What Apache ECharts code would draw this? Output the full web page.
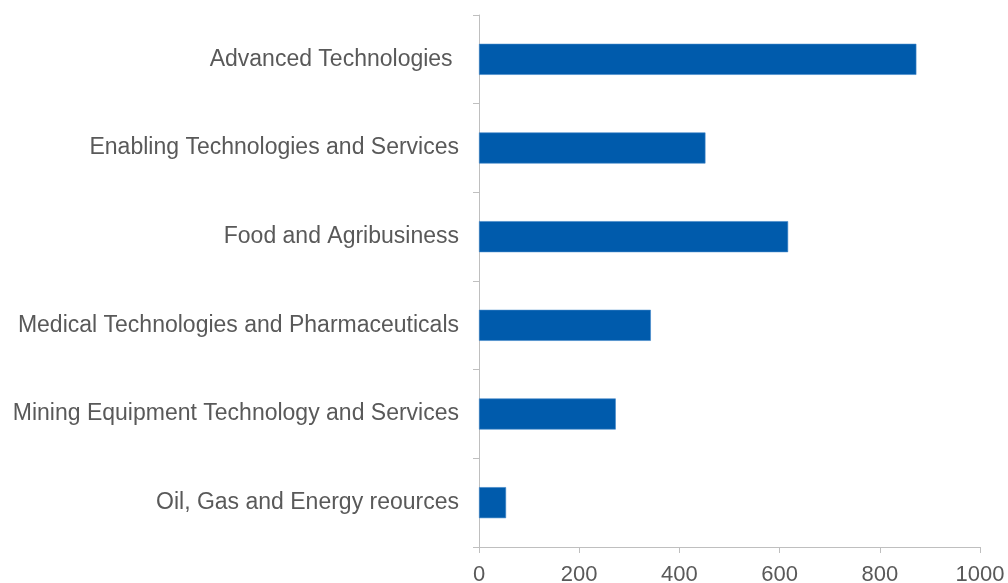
<!DOCTYPE html>
<html>
<head>
<meta charset="utf-8">
<script src="https://cdn.jsdelivr.net/npm/echarts@6/dist/echarts.min.js"></script>
<style>
  html, body { margin: 0; padding: 0; background: #ffffff; }
  #chart { width: 1008px; height: 583px; }
</style>
</head>
<body>
<div id="chart"></div>
<script>
// Sectors, listed top to bottom
const sectors = [
  'Advanced Technologies ',
  'Enabling Technologies and Services',
  'Food and Agribusiness',
  'Medical Technologies and Pharmaceuticals',
  'Mining Equipment Technology and Services',
  'Oil, Gas and Energy reources'
];
// Value per sector
const values = [873, 452, 617, 343, 273, 54];
// Value axis ticks
const xTicks = [0, 200, 400, 600, 800, 1000];

const chart = echarts.init(document.getElementById('chart'), null, { renderer: 'canvas' });
const axisGray = '#BFBFBF';
const textGray = '#595959';
const font = "'Liberation Sans', Arial, sans-serif";

chart.setOption({
  animation: false,
  backgroundColor: '#ffffff',
  grid: {
    left: 479, right: 28, top: 15, bottom: 36,
    containLabel: false, outerBoundsMode: 'none'
  },
  xAxis: {
    type: 'value',
    min: xTicks[0],
    max: xTicks[xTicks.length - 1],
    interval: xTicks[1] - xTicks[0],
    axisLine: { show: true, lineStyle: { color: axisGray, width: 1 } },
    axisTick: { show: true, length: 6, lineStyle: { color: axisGray } },
    splitLine: { show: false },
    axisLabel: {
      color: textGray, fontSize: 22, fontFamily: font, margin: 17,
      formatter: (v) => String(v)
    }
  },
  yAxis: {
    type: 'category',
    data: sectors,
    inverse: true,
    axisLine: { show: true, lineStyle: { color: axisGray, width: 1 } },
    axisTick: { show: true, length: 6, lineStyle: { color: axisGray } },
    axisLabel: { color: textGray, fontSize: 23, fontFamily: font, margin: 20 }
  },
  series: [{
    type: 'bar',
    data: values,
    barWidth: '35%',
    itemStyle: { color: '#005BAC', borderColor: '#3F86C9', borderWidth: 0.6 }
  }]
});
</script>
</body>
</html>
